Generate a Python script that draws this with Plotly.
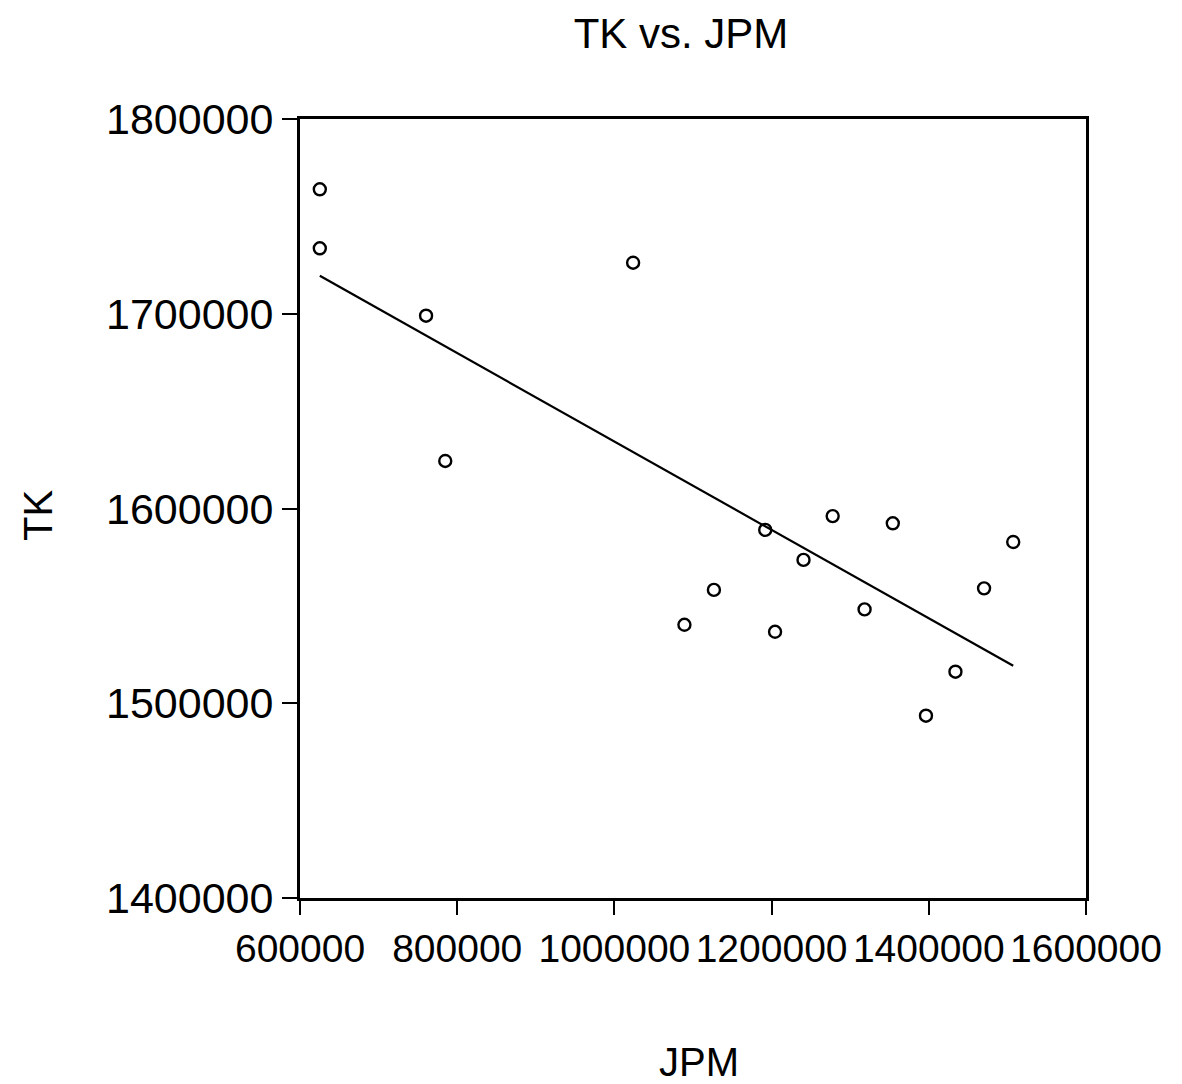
import numpy as np
import plotly.graph_objects as go

jpm = [625200, 625200, 760400, 784800, 1023800, 1089100, 1126600, 1191900, 1204400,
       1240600, 1277700, 1318300, 1354200, 1396400, 1433900, 1470300, 1507400]
tk = [1763900, 1733600, 1699000, 1624400, 1726200, 1540300, 1558200, 1589000, 1536700,
      1573600, 1596100, 1548200, 1592400, 1493600, 1516200, 1559000, 1582800]
x_ticks = [600000, 800000, 1000000, 1200000, 1400000, 1600000]
y_ticks = [1400000, 1500000, 1600000, 1700000, 1800000]

b, a = np.polyfit(jpm, tk, 1)
xl = np.array([min(jpm), max(jpm)])
yl = a + b * xl

FONT = "Liberation Sans, Arial, sans-serif"

fig = go.Figure()
fig.add_trace(go.Scatter(x=xl, y=yl, mode="lines", line=dict(color="black", width=2.2),
                         showlegend=False, hoverinfo="skip"))
fig.add_trace(go.Scatter(x=jpm, y=tk, mode="markers",
                         marker=dict(symbol="circle-open", size=12, color="black",
                                     line=dict(width=2.4, color="black")),
                         showlegend=False))

OFF = 8  # page offset of the plot div
W, H = 1174, 1076
# desired plot frame in page pixels
PL, PR, PT, PB = 300, 1086, 119, 898
L = PL - OFF
T = PT - OFF
R = W - (PR - OFF)
B = H - (PB - OFF)
pw, ph = W - L - R, H - T - B


def px(x):
    return (x - OFF - L) / pw


def py(y):
    return 1 - (y - OFF - T) / ph


fig.update_layout(
    width=W, height=H,
    margin=dict(l=L, r=R, t=T, b=B),
    paper_bgcolor="white", plot_bgcolor="white",
    font=dict(family=FONT, color="black", size=40),
    title=dict(text="TK vs. JPM", x=(681 - OFF) / W, xanchor="center", xref="container",
               y=1 - (33 - OFF) / H, yref="container", yanchor="middle",
               font=dict(family=FONT, size=42, color="black")),
    xaxis=dict(range=[600000, 1600000], tickvals=x_ticks,
               ticktext=[str(v) for v in x_ticks],
               showgrid=False, zeroline=False, showline=True, linecolor="black",
               linewidth=3, mirror=True, ticks="outside", ticklen=14, tickwidth=2,
               tickcolor="black", tickfont=dict(family=FONT, size=39)),
    yaxis=dict(range=[1400000, 1800000], tickvals=y_ticks,
               ticktext=[str(v) for v in y_ticks],
               showgrid=False, zeroline=False, showline=True, linecolor="black",
               linewidth=3, mirror=True, ticks="outside", ticklen=15, tickwidth=2,
               tickcolor="black", tickfont=dict(family=FONT, size=43)),
    annotations=[
        dict(text="JPM", xref="paper", yref="paper", x=px(699), y=py(1062),
             xanchor="center", yanchor="middle",
             showarrow=False, font=dict(family=FONT, size=40, color="black")),
        dict(text="TK", xref="paper", yref="paper", x=px(38), y=py(516),
             xanchor="center", yanchor="middle",
             textangle=-90, showarrow=False, font=dict(family=FONT, size=40, color="black")),
    ],
)

fig.write_html("out.html")
